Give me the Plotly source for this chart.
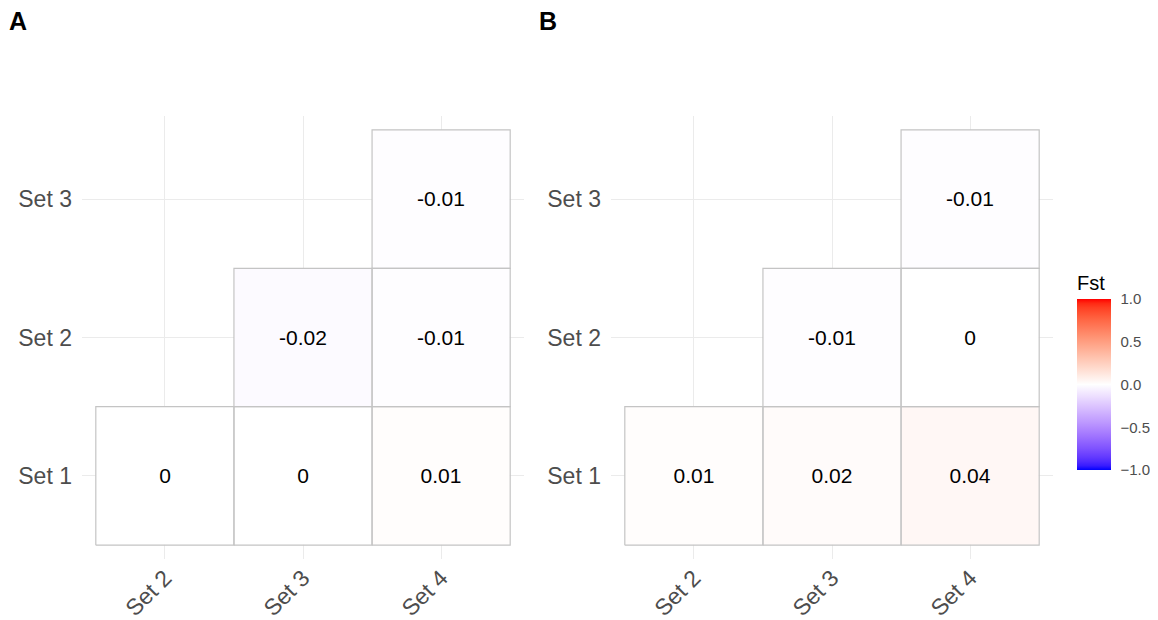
import plotly.graph_objects as go
import numpy as np

x_labels = ["Set 2", "Set 3", "Set 4"]
y_labels = ["Set 1", "Set 2", "Set 3"]
nan = None
# rows = y (Set 1, Set 2, Set 3), cols = x (Set 2, Set 3, Set 4)
fst_a = [[0, 0, 0.01],
         [nan, -0.02, -0.01],
         [nan, nan, -0.01]]
fst_b = [[0.01, 0.02, 0.04],
         [nan, -0.01, 0],
         [nan, nan, -0.01]]
panel_titles = ["A", "B"]
cbar_ticks = [-1.0, -0.5, 0.0, 0.5, 1.0]

FONT = "Liberation Sans, Arial, sans-serif"
OFF = 8  # page body margin
W, H = 1158 - OFF, 620 - OFF
xs = [1, 2, 3]
ys = [1, 2, 3]


def px_x(p):
    return (p - OFF) / W


def px_y(p):
    return 1 - (p - OFF) / H


# --- Lab-interpolated diverging scale (like ggplot's gradient2) ---
def srgb_to_lab(c):
    c = np.array(c, float) / 255
    c = np.where(c > 0.04045, ((c + 0.055) / 1.055) ** 2.4, c / 12.92)
    M = np.array([[0.4124, 0.3576, 0.1805], [0.2126, 0.7152, 0.0722], [0.0193, 0.1192, 0.9505]])
    xyz = M @ c / np.array([0.95047, 1.0, 1.08883])
    f = np.where(xyz > 0.008856, np.cbrt(xyz), 7.787 * xyz + 16 / 116)
    return np.array([116 * f[1] - 16, 500 * (f[0] - f[1]), 200 * (f[1] - f[2])])


def lab_to_srgb(lab):
    L, a, b = lab
    fy = (L + 16) / 116
    fx = fy + a / 500
    fz = fy - b / 200
    f = np.array([fx, fy, fz])
    xyz = np.where(f ** 3 > 0.008856, f ** 3, (f - 16 / 116) / 7.787) * np.array([0.95047, 1.0, 1.08883])
    Mi = np.array([[3.2406, -1.5372, -0.4986], [-0.9689, 1.8758, 0.0415], [0.0557, -0.2040, 1.0570]])
    c = Mi @ xyz
    c = np.where(c > 0.0031308, 1.055 * np.clip(c, 0, None) ** (1 / 2.4) - 0.055, 12.92 * c)
    c = np.clip(c, 0, 1) * 255
    return "rgb(%d,%d,%d)" % tuple(np.round(c).astype(int))


lab_lo, lab_mid, lab_hi = srgb_to_lab((0, 0, 255)), srgb_to_lab((255, 255, 255)), srgb_to_lab((255, 0, 0))
cscale = []
n = 40
for i in range(n + 1):
    t = i / n
    if t <= 0.5:
        s = t / 0.5
        lab = lab_lo + (lab_mid - lab_lo) * s
    else:
        s = (t - 0.5) / 0.5
        lab = lab_mid + (lab_hi - lab_mid) * s
    cscale.append([t, lab_to_srgb(lab)])
cscale[0][1] = "rgb(0,0,255)"
cscale[n // 2][1] = "rgb(255,255,255)"
cscale[-1][1] = "rgb(255,0,0)"


def fmt(v):
    if v is None:
        return ""
    s = f"{v:.2f}".rstrip("0").rstrip(".")
    if s in ("-0", ""):
        s = "0"
    return s


fig = go.Figure()
domains_px = [(82, 524), (611, 1053)]
y_dom = [px_y(559), px_y(116)]

for k, z in enumerate([fst_a, fst_b]):
    xa = "x" if k == 0 else "x2"
    ya = "y" if k == 0 else "y2"
    zz = [[np.nan if v is None else v for v in row] for row in z]
    txt = [[fmt(v) for v in row] for row in z]
    fig.add_trace(go.Heatmap(
        x=xs, y=ys, z=zz, text=txt, texttemplate="%{text}",
        textfont=dict(size=21, color="black", family=FONT),
        coloraxis="coloraxis", xaxis=xa, yaxis=ya, hoverinfo="skip",
    ))
    # tile borders
    bx, by = [], []
    for i, row in enumerate(z):
        for j, v in enumerate(row):
            if v is None:
                continue
            cx, cy = xs[j], ys[i]
            bx += [cx - 0.5, cx + 0.5, cx + 0.5, cx - 0.5, cx - 0.5, None]
            by += [cy - 0.5, cy - 0.5, cy + 0.5, cy + 0.5, cy - 0.5, None]
    fig.add_trace(go.Scatter(x=bx, y=by, mode="lines",
                             line=dict(color="#c4c4c4", width=1.2),
                             xaxis=xa, yaxis=ya, hoverinfo="skip", showlegend=False))

axis_common = dict(range=[0.4, 3.6], tickvals=xs, showgrid=True, gridcolor="#ebebeb",
                   gridwidth=1, zeroline=False, showline=False, ticks="",
                   tickfont=dict(size=23, color="#4d4d4d", family=FONT))
for k in range(2):
    sfx = "" if k == 0 else "2"
    d = domains_px[k]
    fig.update_layout(**{
        f"xaxis{sfx}": dict(axis_common, domain=[px_x(d[0]), px_x(d[1])], ticktext=x_labels,
                            tickangle=-45, anchor=f"y{sfx}"),
        f"yaxis{sfx}": dict(axis_common, domain=y_dom, ticktext=y_labels,
                            anchor=f"x{sfx}", ticklabelstandoff=9),
    })

for t, px in zip(panel_titles, [18, 548]):
    fig.add_annotation(text=f"<b>{t}</b>", x=px_x(px), y=px_y(21), xref="paper", yref="paper",
                       showarrow=False, font=dict(size=25, color="black", family=FONT),
                       xanchor="center", yanchor="middle")

# white tick marks inside the colour bar (both edges), placed on the bar's own scale
bar_left, bar_w = 1077, 34
for v in cbar_ticks[1:-1]:
    yy = (470 - (v + 1) / 2 * 170)
    for x0, x1 in [(bar_left, bar_left + 6), (bar_left + bar_w - 6, bar_left + bar_w)]:
        fig.add_shape(type="line", xref="paper", yref="paper",
                      x0=px_x(x0), x1=px_x(x1), y0=px_y(yy), y1=px_y(yy),
                      line=dict(color="white", width=1.5), layer="above")

fig.update_layout(
    width=W, height=H, margin=dict(l=0, r=0, t=0, b=0),
    paper_bgcolor="white", plot_bgcolor="white", showlegend=False,
    font=dict(family=FONT),
    coloraxis=dict(
        cmin=-1, cmax=1,
        colorscale=cscale,
        colorbar=dict(
            title=dict(text="Fst", side="top", font=dict(size=20, color="black", family=FONT)),
            x=px_x(1077), xanchor="left", y=px_y(470), yanchor="bottom",
            lenmode="pixels", len=198, thickness=34, xpad=0, ypad=0,
            outlinewidth=0, tickvals=cbar_ticks, tickformat=".1f",
            ticks="outside", ticklen=7, tickcolor="rgba(0,0,0,0)",
            tickfont=dict(size=15, color="#4d4d4d", family=FONT),
        ),
    ),
)

fig.write_html("out.html")
